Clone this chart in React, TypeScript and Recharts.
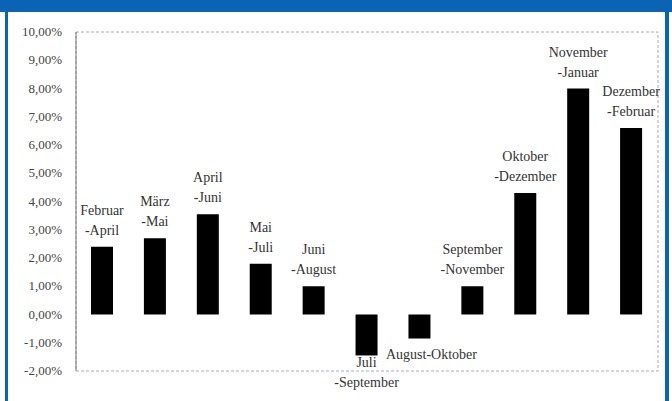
import React from 'react';
import { BarChart, Bar, XAxis, YAxis, LabelList, ReferenceArea } from 'recharts';

const periods = [
  'Februar\n-April',
  'März\n-Mai',
  'April\n-Juni',
  'Mai\n-Juli',
  'Juni\n-August',
  'Juli\n-September',
  'August-Oktober',
  'September\n-November',
  'Oktober\n-Dezember',
  'November\n-Januar',
  'Dezember\n-Februar',
];
const returns = [2.4, 2.7, 3.55, 1.8, 1.0, -1.45, -0.85, 1.0, 4.3, 8.0, 6.6];
const yTicks = [-2, -1, 0, 1, 2, 3, 4, 5, 6, 7, 8, 9, 10];

const data = periods.map((p, i) => ({ period: p, value: returns[i] }));

const BLUE = '#0b63b3';
const SERIF = 'Liberation Serif, Times New Roman, serif';

const formatPct = (v: number) => `${v.toFixed(2).replace('.', ',')}%`;

const PeriodLabel = (props: any) => {
  const { x, y, width, height, index } = props;
  const lines = periods[index].split('\n');
  const cx = x + width / 2;
  const top = Math.min(y, y + height);
  const bottom = Math.max(y, y + height);
  const neg = returns[index] < 0;
  // a single-line label under a short negative bar sits off to the right
  const shift = neg && lines.length === 1 ? 12 : 0;
  const drop = neg && lines.length === 1 ? 20 : 12;
  return (
    <text textAnchor="middle" fontFamily={SERIF} fontSize={14} fill="#333">
      {lines.map((line, k) => (
        <tspan
          key={k}
          x={cx + shift}
          y={neg ? bottom + drop + k * 20 : top - 12 - (lines.length - 1 - k) * 20}
        >
          {line}
        </tspan>
      ))}
    </text>
  );
};

const PctTick = (props: any) => {
  const { x, y, payload } = props;
  return (
    <text x={x} y={y} dy={4} textAnchor="end" fontFamily={SERIF} fontSize={13} fill="#444">
      {formatPct(payload.value)}
    </text>
  );
};

export default function App() {
  return (
    <div
      style={{
        position: 'absolute',
        left: 0,
        top: 0,
        width: 672,
        height: 401,
        background: '#fff',
        overflow: 'hidden',
        fontFamily: SERIF,
      }}
    >
      <div style={{ position: 'absolute', left: 0, top: 0, width: 672, height: 12, background: BLUE }} />
      <div style={{ position: 'absolute', left: 5, top: 0, width: 3, height: 401, background: BLUE }} />
      <div style={{ position: 'absolute', left: 665, top: 0, width: 4, height: 401, background: BLUE }} />
      <div style={{ position: 'absolute', left: 0, top: 0 }}>
        <BarChart
          width={672}
          height={401}
          data={data}
          margin={{ top: 32, right: 14, bottom: 30, left: 0 }}
        >
          <XAxis dataKey="period" hide />
          <YAxis
            width={76}
            domain={[-2, 10]}
            ticks={yTicks}
            interval={0}
            tickLine={false}
            tickMargin={8}
            axisLine={{ stroke: '#777' }}
            tick={<PctTick />}
          />
          <ReferenceArea
            y1={-2}
            y2={10}
            fill="none"
            stroke="#a4a8c8"
            strokeDasharray="3 2"
          />
          <Bar dataKey="value" fill="#000" barSize={22} isAnimationActive={false}>
            <LabelList dataKey="period" content={PeriodLabel} />
          </Bar>
        </BarChart>
      </div>
    </div>
  );
}
